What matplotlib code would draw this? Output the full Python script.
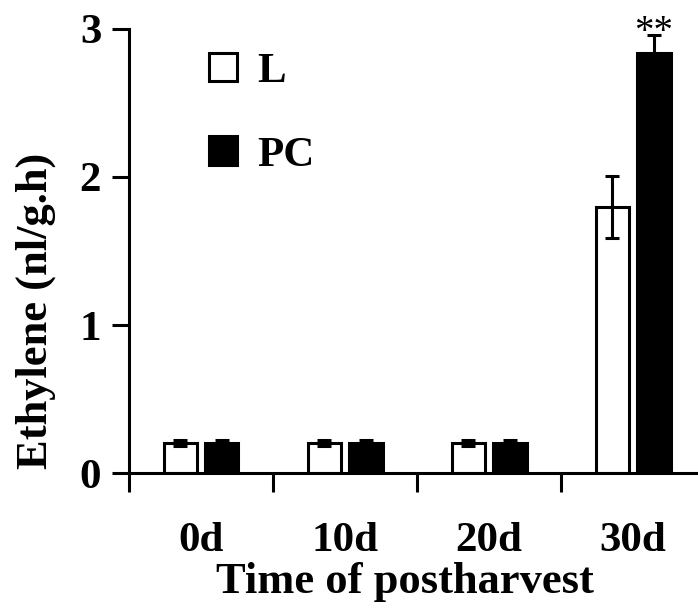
import matplotlib
matplotlib.use('Agg')
import matplotlib.pyplot as plt
import numpy as np

plt.rcParams['font.family'] = ['Liberation Serif', 'DejaVu Serif']
plt.rcParams['font.weight'] = 'bold'
plt.rcParams['axes.labelweight'] = 'bold'

days = ['0d', '10d', '20d', '30d']
l_mean = [0.20, 0.20, 0.20, 1.80]
l_err = [0.02, 0.02, 0.02, 0.21]
pc_mean = [0.20, 0.20, 0.20, 2.84]
pc_err = [0.02, 0.02, 0.02, 0.12]
star_labels = ['', '', '', '**']

lw = 2.2
width = 0.23
x = np.arange(len(days))

fig = plt.figure(figsize=(6.98, 6.14), dpi=100)
ax = fig.add_axes([0.1848, 0.2296, 0.8152, 0.7232])

ax.bar(x - 0.145, l_mean, width, color='white', edgecolor='black', linewidth=lw, label='L')
ax.bar(x + 0.145, pc_mean, width, color='black', edgecolor='black', linewidth=lw, label='PC')
ax.errorbar(x - 0.145, l_mean, yerr=l_err, fmt='none', ecolor='black', elinewidth=lw,
            capsize=4.7, capthick=lw)
ax.errorbar(x + 0.145, pc_mean, yerr=pc_err, fmt='none', ecolor='black', elinewidth=lw,
            capsize=4.7, capthick=lw)

# significance marks
for xi, m, e, s in zip(x, pc_mean, pc_err, star_labels):
    if s:
        ax.text(xi + 0.145, m + e - 0.11, s, ha='center', va='bottom', fontsize=28,
                fontweight='normal')

ax.set_xlim(-0.5, 3.45)
ax.set_ylim(0, 3)
ax.set_yticks([0, 1, 2, 3])
ax.set_xticks([-0.5, 0.5, 1.5, 2.5])
ax.set_xticklabels([])
ax.set_xticks(x, minor=True)
ax.set_xticklabels(days, minor=True)

ax.spines['top'].set_visible(False)
ax.spines['right'].set_visible(False)
ax.spines['left'].set_linewidth(lw)
ax.spines['bottom'].set_linewidth(lw)

ax.tick_params(axis='y', which='major', length=12, width=lw, labelsize=31, pad=8)
ax.tick_params(axis='x', which='major', length=13.7, width=lw)
ax.tick_params(axis='x', which='minor', length=0, labelsize=31, pad=35)

ax.set_xlabel('Time of postharvest', fontsize=32)
ax.set_ylabel('Ethylene (nl/g.h)', fontsize=32)
ax.xaxis.set_label_coords(0.485, -0.2)
ax.yaxis.set_label_coords(-0.128, 0.366)

ax.legend(loc='upper left', bbox_to_anchor=(0.1406, 0.947), frameon=False, fontsize=31,
          handlelength=0.65, handleheight=0.65, handletextpad=0.47, labelspacing=1.05,
          borderpad=0, borderaxespad=0)

fig.savefig('out.png', dpi=100)
